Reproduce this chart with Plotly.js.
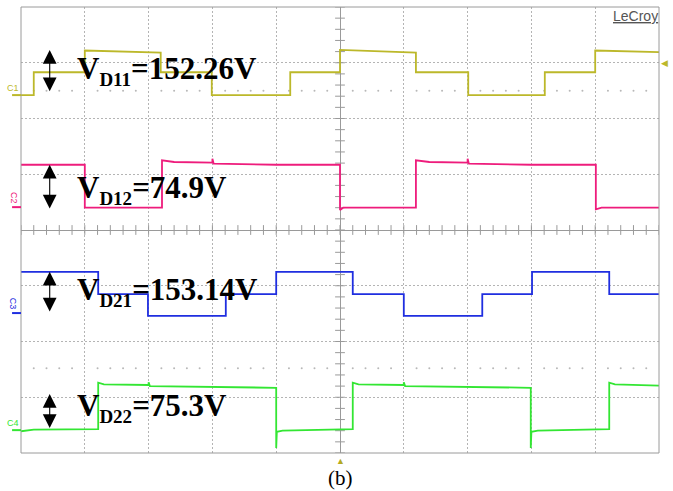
<!DOCTYPE html>
<html>
<head>
<meta charset="utf-8">
<script src="https://cdn.plot.ly/plotly-3.0.1.min.js"></script>
<style>html,body{margin:0;padding:0;background:#fff;}</style>
</head>
<body>
<div id="chart" style="width:673px;height:491px;"></div>
<script>
// Time in divisions relative to the trigger (centre), voltage in screen divisions
var c1T = [-5, -4.80, -4.80, -4.0, -4.0, -2.81, -2.81, -2.01, -2.01, -0.78, -0.78, 0, 0, 1.19, 1.19, 2.01, 2.01, 3.21, 3.21, 4.0, 4.0, 5];
var c1V = [2.42, 2.42, 2.83, 2.83, 3.22, 3.18, 2.83, 2.83, 2.42, 2.42, 2.83, 2.83, 3.23, 3.18, 2.83, 2.83, 2.42, 2.42, 2.83, 2.83, 3.22, 3.19];

var c2T = [-5, -4.0, -4.0, -2.79, -2.79, -2.6, -2.0, -2.0, -1.98, -1.0, 0, 0, 0.05, 1.19, 1.19, 1.4, 2.0, 2.0, 2.02, 3.0, 4.01, 4.01, 4.1, 5];
var c2V = [1.17, 1.17, 0.40, 0.40, 1.25, 1.22, 1.21, 1.28, 1.19, 1.17, 1.17, 0.36, 0.40, 0.40, 1.25, 1.22, 1.21, 1.28, 1.19, 1.17, 1.17, 0.37, 0.40, 0.40];

var c3T = [-5, -3.79, -3.79, -3.01, -3.01, -1.79, -1.79, -1.0, -1.0, 0.20, 0.20, 1.0, 1.0, 2.23, 2.23, 3.01, 3.01, 4.22, 4.22, 5];
var c3V = [-0.75, -0.75, -1.15, -1.15, -1.54, -1.54, -1.15, -1.15, -0.75, -0.75, -1.15, -1.15, -1.54, -1.54, -1.15, -1.15, -0.75, -0.75, -1.15, -1.15];

var c4T = [-5, -4.8, -3.79, -3.79, -3.7, -3.0, -3.0, -2.98, -1.0, -1.0, -0.99, -0.9, 0.20, 0.20, 0.29, 1.0, 1.0, 1.02, 2.99, 2.99, 3.0, 3.1, 4.22, 4.22, 4.31, 5];
var c4V = [-3.61, -3.58, -3.57, -2.74, -2.77, -2.78, -2.73, -2.80, -2.83, -3.91, -3.62, -3.60, -3.57, -2.74, -2.77, -2.78, -2.73, -2.80, -2.83, -3.91, -3.62, -3.60, -3.57, -2.74, -2.77, -2.79];

var channelNames = ["C1", "C2", "C3", "C4"];
var channelColors = ["#bcb82a", "#ee1c7c", "#1f2ee0", "#33e633"];
var channelOffsets = [2.42, 0.41, -1.49, -3.59];
var labelSubs = ["D11", "D12", "D21", "D22"];
var labelValues = ["152.26V", "74.9V", "153.14V", "75.3V"];
var arrowTop = [3.23, 1.17, -0.75, -2.94];
var arrowBottom = [2.46, 0.36, -1.49, -3.58];
var labelY = [2.87, 0.73, -1.10, -3.19];

var traces = [];
var allT = [c1T, c2T, c3T, c4T], allV = [c1V, c2V, c3V, c4V];
// centre-axis tick marks and faint dot rows
var hx = [], hy = [], vx = [], vy = [], dx = [], dyU = [], dyL = [];
for (var k = -25; k <= 25; k++) { hx.push(k * 0.2); hy.push(0); }
for (var k = -20; k <= 20; k++) { vx.push(0); vy.push(k * 0.2); }
for (var k = -24; k <= 24; k++) { if (k % 5 !== 0) { dx.push(k * 0.2); dyU.push(2.5); dyL.push(-2.48); } }
traces.push({x: dx.concat(dx), y: dyU.concat(dyL), mode: 'markers', type: 'scatter', hoverinfo: 'skip', showlegend: false,
  marker: {symbol: 'circle', size: 2, color: '#b8b8b8'}});
traces.push({x: vx, y: vy, mode: 'markers', type: 'scatter', hoverinfo: 'skip', showlegend: false,
  marker: {symbol: 'line-ew', size: 7, line: {color: '#9a9a9a', width: 1}}});
traces.push({x: hx, y: hy, mode: 'markers', type: 'scatter', hoverinfo: 'skip', showlegend: false,
  marker: {symbol: 'line-ns', size: 7, line: {color: '#9a9a9a', width: 1}}});
for (var i = 0; i < 4; i++) {
  traces.push({x: allT[i], y: allV[i], mode: 'lines', type: 'scatter',
    line: {color: channelColors[i], width: 1.8}, hoverinfo: 'skip', showlegend: false});
}

var annotations = [];
var shapes = [{type: 'rect', xref: 'paper', yref: 'paper', x0: 0, x1: 1, y0: 0, y1: 1,
  line: {color: '#9a9a9a', width: 1}}];
for (var i = 0; i < 4; i++) {
  annotations.push({x: -4.55, y: arrowTop[i], ax: -4.55, ay: arrowBottom[i], axref: 'x', ayref: 'y',
    xref: 'x', yref: 'y', text: '', showarrow: true, arrowside: 'end+start',
    arrowhead: 2, startarrowhead: 2, arrowsize: 2.5, startarrowsize: 2.5, arrowwidth: 1.1,
    arrowcolor: '#000', standoff: 0, startstandoff: 0});
  annotations.push({x: -4.16, y: labelY[i], xref: 'x', yref: 'y', xanchor: 'left', yanchor: 'middle',
    showarrow: false,
    text: '<b>V<sub><span style="font-size:19px">' + labelSubs[i] + '</span></sub>=' + labelValues[i] + '</b>',
    font: {family: 'Liberation Serif, Times New Roman, serif', size: 31, color: '#000'}});
  annotations.push({x: -0.012, y: channelOffsets[i] + (i === 0 || i === 3 ? 0.13 : 0.16), xref: 'paper', yref: 'y',
    xanchor: 'center', yanchor: 'middle', showarrow: false, text: channelNames[i],
    textangle: (i === 1 || i === 2) ? 90 : 0,
    font: {family: 'Liberation Sans, Arial, sans-serif', size: 9, color: channelColors[i]}});
  shapes.push({type: 'line', xref: 'paper', yref: 'y', x0: -0.014, x1: 0, y0: channelOffsets[i], y1: channelOffsets[i],
    line: {color: channelColors[i], width: 2}});
}
annotations.push({x: 0.963, y: 0.98, xref: 'paper', yref: 'paper', xanchor: 'center', yanchor: 'middle',
  showarrow: false, text: '<u>LeCroy</u>',
  font: {family: 'Liberation Sans, Arial, sans-serif', size: 14, color: '#555'}});
annotations.push({x: 1, y: 3.01, xref: 'paper', yref: 'y', xanchor: 'left', yanchor: 'middle', showarrow: false,
  text: '◀', font: {size: 9, color: '#bcb82a'}});
annotations.push({x: 0, y: 0, xref: 'x', yref: 'paper', xanchor: 'center', yanchor: 'top', showarrow: false,
  text: '▲', font: {size: 9, color: '#b5aa22'}, yshift: 1});
annotations.push({x: 0, y: -0.056, xref: 'x', yref: 'paper', xanchor: 'center', yanchor: 'middle', showarrow: false,
  text: '(b)', font: {family: 'Liberation Serif, Times New Roman, serif', size: 21, color: '#000'}});

var layout = {
  width: 673, height: 491,
  margin: {l: 21, r: 14, t: 7, b: 38},
  paper_bgcolor: '#fff', plot_bgcolor: '#fff',
  showlegend: false,
  xaxis: {range: [-5, 5], dtick: 1, tick0: 0, showgrid: true, gridcolor: '#b4b4b4', griddash: '2px,2px', gridwidth: 1,
    zeroline: true, zerolinecolor: '#9a9a9a', zerolinewidth: 1, showticklabels: false, ticks: '', showline: false, fixedrange: true},
  yaxis: {range: [-4, 4], dtick: 1, tick0: 0, showgrid: true, gridcolor: '#b4b4b4', griddash: '2px,2px', gridwidth: 1,
    zeroline: true, zerolinecolor: '#9a9a9a', zerolinewidth: 1, showticklabels: false, ticks: '', showline: false, fixedrange: true},
  shapes: shapes,
  annotations: annotations
};
Plotly.newPlot('chart', traces, layout, {displayModeBar: false, staticPlot: true});
</script>
</body>
</html>
